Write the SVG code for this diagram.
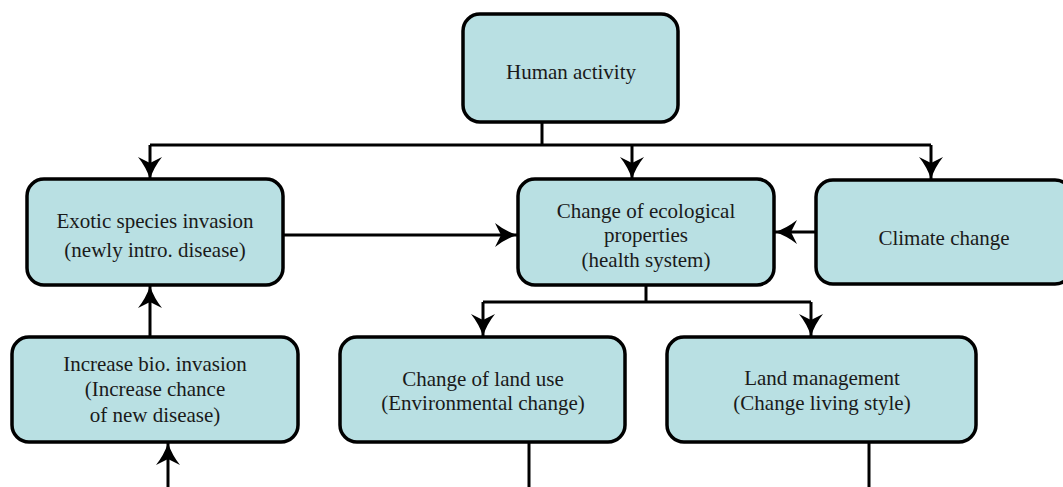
<svg xmlns="http://www.w3.org/2000/svg" width="1063" height="487" viewBox="0 0 1063 487">
<style>
.box{fill:#b9e0e3;stroke:#000;stroke-width:3.5}
.lbl{font-family:"Liberation Serif","Times New Roman",serif;font-size:21px;fill:#1a1a1a;text-anchor:middle}
.con{fill:none;stroke:#000;stroke-width:3}
</style>
<defs>
<marker id="ah" viewBox="-23 -13 25 26" refX="0" refY="0" markerWidth="25" markerHeight="26" markerUnits="userSpaceOnUse" orient="auto">
<path d="M0,0 Q-12,-4 -22,-12 L-16,0 L-22,12 Q-12,4 0,0 Z" fill="#000"/>
</marker>
</defs>
<rect width="1063" height="487" fill="#fff"/>
<g id="connectors">
<path class="con" d="M542,122 V145"/>
<path class="con" d="M150,145 H931"/>
<path class="con" d="M150,145 V179" marker-end="url(#ah)"/>
<path class="con" d="M632,145 V179" marker-end="url(#ah)"/>
<path class="con" d="M931,145 V179" marker-end="url(#ah)"/>
<path class="con" d="M283,235 H517" marker-end="url(#ah)"/>
<path class="con" d="M816,232 H775" marker-end="url(#ah)"/>
<path class="con" d="M646,285 V302"/>
<path class="con" d="M483,302 H811"/>
<path class="con" d="M483,302 V336" marker-end="url(#ah)"/>
<path class="con" d="M811,302 V336" marker-end="url(#ah)"/>
<path class="con" d="M150,337 V286" marker-end="url(#ah)"/>
<path class="con" d="M168,487 V443" marker-end="url(#ah)"/>
<path class="con" d="M529,442 V487"/>
<path class="con" d="M869,442 V487"/>
</g>
<g id="human-activity">
<rect class="box" x="463" y="14" width="215" height="108" rx="17"/>
<text class="lbl" x="571" y="79">Human activity</text>
</g>
<g id="exotic-species">
<rect class="box" x="27" y="179" width="256" height="106" rx="17"/>
<text class="lbl" x="155" y="228">Exotic species invasion</text>
<text class="lbl" x="155" y="257">(newly intro. disease)</text>
</g>
<g id="ecological">
<rect class="box" x="518" y="179" width="256" height="106" rx="17"/>
<text class="lbl" x="646" y="218">Change of ecological</text>
<text class="lbl" x="646" y="242">properties</text>
<text class="lbl" x="646" y="267">(health system)</text>
</g>
<g id="climate">
<rect class="box" x="816" y="180" width="256" height="104" rx="17"/>
<text class="lbl" x="944" y="245">Climate change</text>
</g>
<g id="increase-bio">
<rect class="box" x="12" y="337" width="286" height="105" rx="17"/>
<text class="lbl" x="155" y="371">Increase bio. invasion</text>
<text class="lbl" x="155" y="396">(Increase chance</text>
<text class="lbl" x="155" y="422">of new disease)</text>
</g>
<g id="land-use">
<rect class="box" x="340" y="337" width="285" height="105" rx="17"/>
<text class="lbl" x="483" y="386">Change of land use</text>
<text class="lbl" x="483" y="410">(Environmental change)</text>
</g>
<g id="land-management">
<rect class="box" x="667" y="337" width="309" height="105" rx="17"/>
<text class="lbl" x="822" y="385">Land management</text>
<text class="lbl" x="822" y="410">(Change living style)</text>
</g>
</svg>
